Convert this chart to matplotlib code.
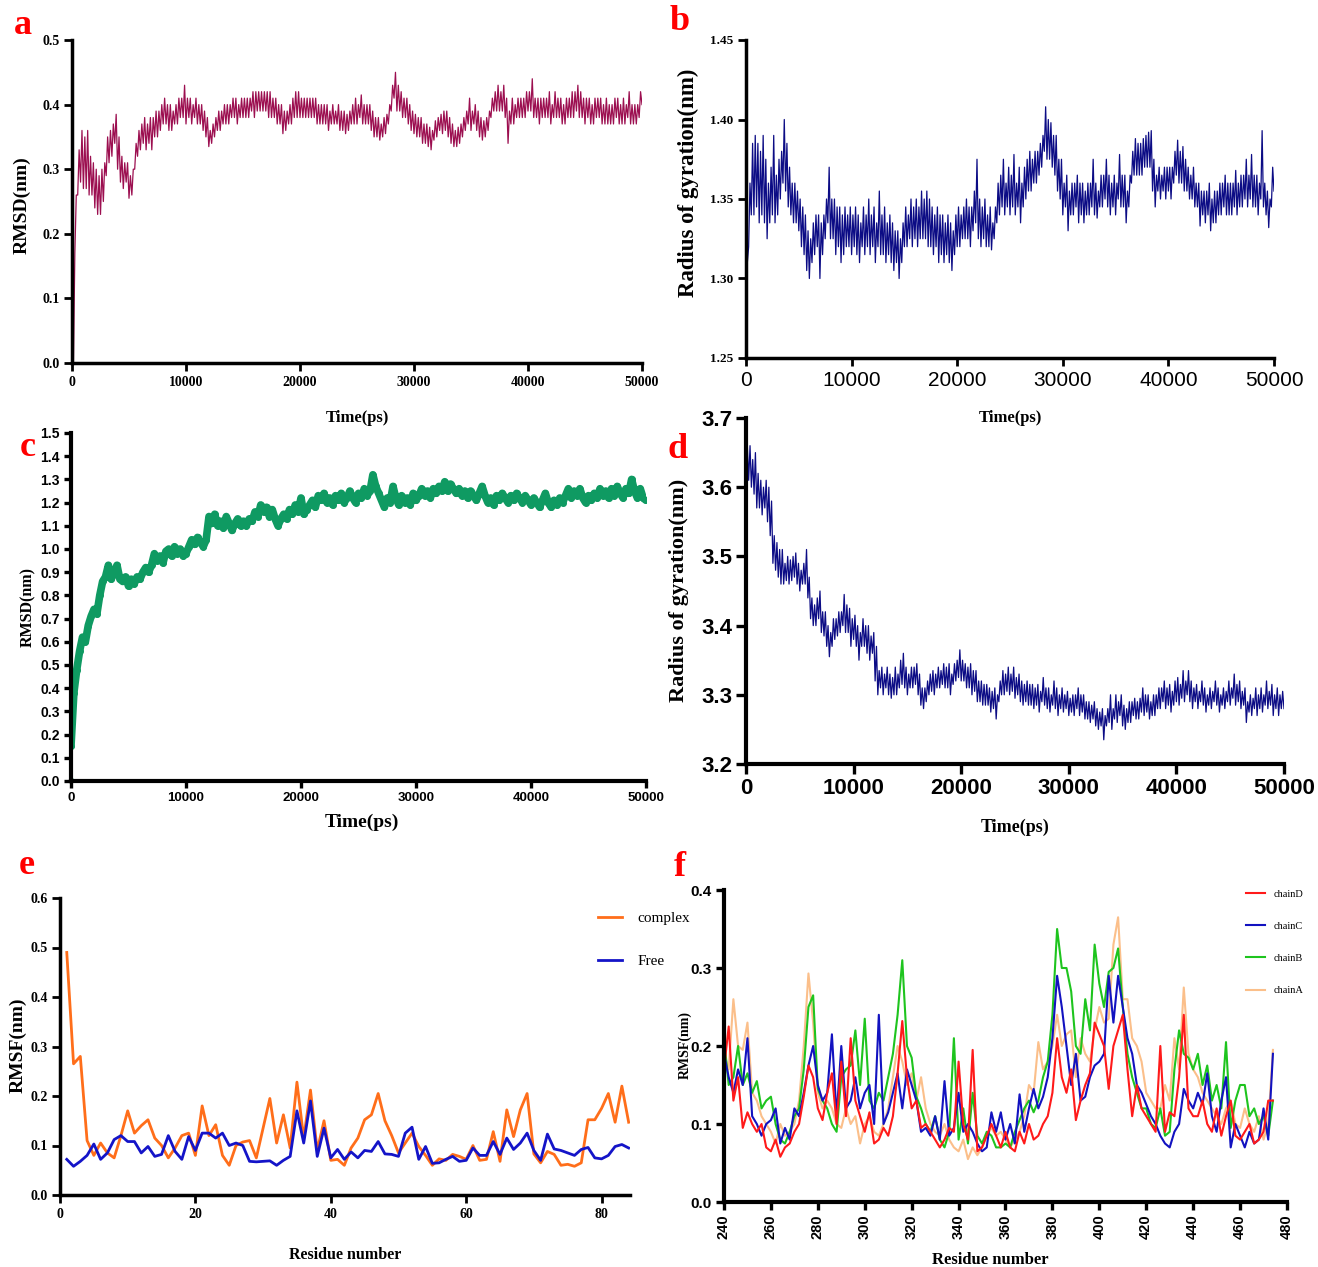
import numpy as np
import matplotlib
matplotlib.use('Agg')
import matplotlib.pyplot as plt

# ---------------- data ----------------
TIME_STEP_PS = 250  # sampling of the trajectories below (ps)
# For the noisy trajectories (a, b, d) the lower / upper edge of the
# fluctuation band is read at every 250 ps step.

A_LOW = [
 0.00,0.17,0.26,0.28,0.27,0.27,0.26,0.26,0.24,0.23,
 0.23,0.25,0.29,0.31,0.32,0.34,0.30,0.28,0.27,0.28,
 0.255,0.26,0.30,0.32,0.33,0.34,0.33,0.34,0.33,0.35,
 0.35,0.36,0.37,0.37,0.36,0.36,0.37,0.37,0.38,0.38,
 0.37,0.38,0.37,0.38,0.37,0.37,0.36,0.35,0.335,0.34,
 0.35,0.36,0.36,0.37,0.37,0.37,0.38,0.38,0.37,0.38,
 0.38,0.38,0.38,0.39,0.38,0.39,0.39,0.39,0.39,0.38,
 0.38,0.38,0.37,0.37,0.355,0.36,0.37,0.37,0.38,0.38,
 0.38,0.38,0.38,0.38,0.38,0.38,0.37,0.37,0.37,0.37,
 0.36,0.37,0.37,0.37,0.36,0.36,0.355,0.36,0.37,0.37,
 0.37,0.38,0.37,0.37,0.37,0.36,0.35,0.35,0.345,0.35,
 0.355,0.37,0.39,0.41,0.39,0.39,0.38,0.38,0.37,0.36,
 0.355,0.35,0.35,0.34,0.34,0.335,0.33,0.345,0.35,0.36,
 0.355,0.36,0.35,0.34,0.335,0.335,0.34,0.35,0.36,0.37,
 0.36,0.37,0.36,0.35,0.345,0.35,0.36,0.38,0.39,0.39,
 0.39,0.39,0.38,0.34,0.37,0.37,0.38,0.38,0.38,0.38,
 0.39,0.39,0.38,0.38,0.37,0.38,0.38,0.38,0.37,0.38,
 0.38,0.38,0.37,0.37,0.38,0.38,0.38,0.39,0.38,0.38,
 0.37,0.38,0.37,0.37,0.38,0.38,0.37,0.37,0.37,0.37,
 0.37,0.38,0.37,0.37,0.37,0.38,0.37,0.37,0.37,0.38,
 0.40]
A_HIGH = [
 0.00,0.26,0.33,0.36,0.35,0.36,0.32,0.31,0.30,0.29,
 0.30,0.31,0.35,0.36,0.37,0.385,0.35,0.32,0.31,0.31,
 0.29,0.30,0.34,0.36,0.37,0.38,0.37,0.38,0.38,0.39,
 0.39,0.40,0.41,0.40,0.40,0.39,0.40,0.41,0.41,0.43,
 0.41,0.41,0.40,0.41,0.40,0.40,0.39,0.38,0.36,0.37,
 0.38,0.39,0.39,0.40,0.40,0.40,0.41,0.41,0.40,0.41,
 0.41,0.41,0.41,0.42,0.42,0.42,0.42,0.42,0.42,0.42,
 0.41,0.41,0.40,0.40,0.39,0.39,0.40,0.41,0.42,0.42,
 0.41,0.41,0.41,0.41,0.41,0.41,0.40,0.40,0.40,0.40,
 0.39,0.40,0.39,0.40,0.39,0.39,0.385,0.39,0.40,0.41,
 0.40,0.415,0.40,0.40,0.40,0.39,0.38,0.38,0.37,0.38,
 0.385,0.40,0.43,0.45,0.43,0.42,0.41,0.41,0.40,0.39,
 0.385,0.38,0.38,0.37,0.37,0.365,0.36,0.375,0.38,0.385,
 0.39,0.39,0.38,0.37,0.36,0.365,0.37,0.38,0.39,0.41,
 0.39,0.40,0.39,0.38,0.375,0.38,0.39,0.41,0.42,0.43,
 0.42,0.43,0.41,0.39,0.41,0.40,0.41,0.41,0.41,0.42,
 0.42,0.44,0.41,0.41,0.41,0.41,0.41,0.42,0.40,0.42,
 0.41,0.41,0.40,0.41,0.41,0.42,0.42,0.43,0.42,0.41,
 0.41,0.41,0.40,0.41,0.41,0.41,0.40,0.41,0.40,0.40,
 0.41,0.41,0.40,0.41,0.40,0.42,0.40,0.40,0.40,0.42,
 0.44]

B_LOW = [
 1.300,1.320,1.340,1.340,1.345,1.335,1.340,1.335,1.325,1.335,
 1.340,1.335,1.340,1.350,1.360,1.355,1.345,1.340,1.335,1.335,
 1.330,1.320,1.315,1.305,1.300,1.310,1.315,1.320,1.300,1.315,
 1.325,1.335,1.325,1.325,1.315,1.320,1.310,1.315,1.320,1.320,
 1.315,1.320,1.315,1.310,1.320,1.315,1.320,1.315,1.320,1.310,
 1.320,1.315,1.315,1.310,1.315,1.310,1.305,1.310,1.300,1.310,
 1.320,1.320,1.325,1.320,1.325,1.320,1.325,1.325,1.325,1.320,
 1.320,1.315,1.320,1.310,1.315,1.310,1.315,1.310,1.305,1.315,
 1.320,1.320,1.325,1.325,1.325,1.320,1.330,1.335,1.325,1.320,
 1.325,1.320,1.320,1.318,1.325,1.335,1.340,1.345,1.340,1.345,
 1.340,1.345,1.340,1.345,1.335,1.345,1.350,1.355,1.355,1.360,
 1.360,1.365,1.370,1.380,1.375,1.375,1.370,1.365,1.355,1.350,
 1.340,1.345,1.330,1.340,1.340,1.345,1.335,1.340,1.335,1.340,
 1.340,1.345,1.340,1.338,1.345,1.345,1.350,1.345,1.340,1.345,
 1.340,1.350,1.345,1.345,1.335,1.345,1.360,1.365,1.365,1.365,
 1.365,1.370,1.370,1.370,1.355,1.345,1.355,1.350,1.355,1.350,
 1.355,1.350,1.360,1.365,1.360,1.360,1.355,1.355,1.350,1.350,
 1.345,1.345,1.333,1.340,1.335,1.340,1.330,1.335,1.335,1.340,
 1.340,1.345,1.340,1.340,1.340,1.345,1.340,1.345,1.345,1.350,
 1.345,1.350,1.345,1.345,1.340,1.350,1.345,1.340,1.332,1.345,
 1.355]
B_HIGH = [
 1.310,1.360,1.385,1.390,1.385,1.380,1.390,1.375,1.360,1.370,
 1.390,1.365,1.375,1.380,1.400,1.385,1.370,1.360,1.360,1.355,
 1.350,1.345,1.340,1.330,1.325,1.335,1.340,1.340,1.335,1.340,
 1.350,1.370,1.350,1.350,1.345,1.345,1.340,1.345,1.340,1.345,
 1.340,1.345,1.340,1.335,1.345,1.340,1.350,1.340,1.345,1.335,
 1.355,1.340,1.345,1.335,1.340,1.335,1.330,1.330,1.325,1.335,
 1.345,1.340,1.350,1.345,1.350,1.345,1.355,1.350,1.355,1.350,
 1.345,1.340,1.345,1.340,1.340,1.335,1.340,1.335,1.330,1.340,
 1.345,1.340,1.345,1.350,1.345,1.345,1.355,1.375,1.350,1.345,
 1.350,1.340,1.345,1.335,1.345,1.360,1.365,1.375,1.360,1.370,
 1.365,1.378,1.360,1.370,1.360,1.370,1.375,1.380,1.375,1.380,
 1.380,1.385,1.390,1.408,1.400,1.398,1.390,1.390,1.375,1.375,
 1.360,1.365,1.355,1.360,1.360,1.365,1.360,1.360,1.355,1.360,
 1.360,1.375,1.360,1.355,1.365,1.365,1.375,1.365,1.360,1.365,
 1.360,1.378,1.365,1.365,1.355,1.365,1.380,1.388,1.385,1.385,
 1.388,1.390,1.392,1.393,1.375,1.365,1.370,1.365,1.370,1.370,
 1.370,1.370,1.380,1.387,1.380,1.383,1.375,1.370,1.365,1.370,
 1.360,1.360,1.355,1.355,1.355,1.360,1.350,1.355,1.355,1.360,
 1.360,1.365,1.360,1.360,1.360,1.368,1.360,1.365,1.365,1.375,
 1.365,1.378,1.365,1.365,1.360,1.393,1.360,1.355,1.350,1.370,
 1.378]

RMSD_C = [
 0.15,0.38,0.48,0.56,0.62,0.60,0.67,0.71,0.74,0.72,
 0.80,0.86,0.88,0.93,0.87,0.90,0.93,0.87,0.86,0.88,
 0.84,0.87,0.85,0.88,0.87,0.90,0.92,0.90,0.93,0.98,
 0.95,0.97,0.94,0.99,1.00,0.97,1.01,0.98,1.00,0.97,
 0.98,1.01,1.04,1.02,1.05,1.03,1.01,1.04,1.14,1.11,
 1.15,1.10,1.12,1.09,1.14,1.11,1.08,1.11,1.13,1.10,
 1.12,1.10,1.13,1.12,1.16,1.14,1.19,1.16,1.18,1.14,
 1.17,1.13,1.10,1.13,1.15,1.13,1.17,1.15,1.19,1.16,
 1.22,1.15,1.17,1.19,1.21,1.18,1.23,1.21,1.24,1.20,
 1.22,1.19,1.23,1.21,1.24,1.20,1.22,1.25,1.22,1.20,
 1.24,1.22,1.26,1.23,1.25,1.32,1.27,1.24,1.21,1.18,
 1.22,1.20,1.27,1.22,1.19,1.23,1.20,1.22,1.19,1.24,
 1.21,1.23,1.26,1.23,1.25,1.22,1.26,1.24,1.27,1.25,
 1.29,1.25,1.28,1.26,1.24,1.26,1.23,1.25,1.22,1.25,
 1.23,1.21,1.24,1.27,1.23,1.20,1.22,1.19,1.23,1.21,
 1.24,1.22,1.20,1.23,1.21,1.24,1.22,1.20,1.23,1.21,
 1.19,1.22,1.20,1.18,1.21,1.24,1.20,1.18,1.21,1.19,
 1.22,1.20,1.23,1.26,1.22,1.25,1.23,1.26,1.22,1.20,
 1.23,1.21,1.24,1.22,1.26,1.23,1.25,1.22,1.26,1.23,
 1.27,1.24,1.22,1.26,1.24,1.30,1.25,1.22,1.26,1.22,
 1.21]

D_LOW = [
 3.58,3.61,3.60,3.59,3.57,3.57,3.56,3.57,3.55,3.53,
 3.49,3.48,3.47,3.46,3.46,3.465,3.46,3.465,3.47,3.46,
 3.45,3.46,3.46,3.44,3.41,3.40,3.40,3.41,3.39,3.385,
 3.37,3.355,3.37,3.38,3.385,3.39,3.40,3.39,3.39,3.37,
 3.38,3.37,3.35,3.37,3.37,3.36,3.35,3.36,3.32,3.30,
 3.31,3.30,3.31,3.30,3.295,3.30,3.30,3.31,3.315,3.31,
 3.30,3.31,3.31,3.315,3.30,3.285,3.28,3.29,3.30,3.305,
 3.30,3.31,3.31,3.315,3.31,3.31,3.30,3.315,3.32,3.325,
 3.32,3.32,3.31,3.31,3.30,3.305,3.29,3.29,3.285,3.285,
 3.285,3.275,3.28,3.265,3.29,3.30,3.30,3.305,3.30,3.305,
 3.295,3.30,3.29,3.285,3.29,3.285,3.285,3.28,3.285,3.275,
 3.29,3.285,3.28,3.275,3.285,3.28,3.27,3.28,3.275,3.28,
 3.27,3.275,3.27,3.28,3.27,3.275,3.265,3.265,3.26,3.265,
 3.255,3.25,3.255,3.235,3.255,3.26,3.25,3.265,3.26,3.27,
 3.255,3.25,3.26,3.26,3.27,3.265,3.265,3.275,3.27,3.275,
 3.265,3.27,3.27,3.28,3.28,3.29,3.28,3.285,3.275,3.285,
 3.29,3.285,3.295,3.29,3.30,3.29,3.28,3.29,3.28,3.29,
 3.285,3.275,3.285,3.28,3.29,3.285,3.275,3.285,3.28,3.29,
 3.285,3.295,3.285,3.29,3.28,3.285,3.26,3.275,3.27,3.28,
 3.27,3.28,3.275,3.285,3.28,3.285,3.27,3.28,3.27,3.28,
 3.28]
D_HIGH = [
 3.66,3.66,3.64,3.65,3.62,3.61,3.60,3.61,3.60,3.58,
 3.53,3.52,3.51,3.51,3.49,3.50,3.495,3.50,3.505,3.49,
 3.48,3.49,3.51,3.47,3.44,3.43,3.44,3.45,3.42,3.42,
 3.40,3.39,3.41,3.41,3.42,3.42,3.445,3.43,3.425,3.41,
 3.415,3.40,3.39,3.41,3.40,3.40,3.385,3.39,3.37,3.335,
 3.34,3.33,3.34,3.33,3.325,3.34,3.33,3.35,3.36,3.34,
 3.33,3.34,3.34,3.345,3.33,3.31,3.31,3.32,3.33,3.335,
 3.33,3.34,3.335,3.345,3.34,3.345,3.33,3.345,3.35,3.365,
 3.35,3.345,3.34,3.345,3.335,3.335,3.32,3.32,3.315,3.315,
 3.31,3.305,3.31,3.30,3.32,3.335,3.33,3.34,3.33,3.34,
 3.325,3.33,3.32,3.315,3.32,3.315,3.315,3.31,3.315,3.305,
 3.325,3.31,3.31,3.30,3.32,3.31,3.30,3.31,3.30,3.305,
 3.295,3.30,3.30,3.31,3.30,3.30,3.29,3.29,3.285,3.29,
 3.28,3.275,3.28,3.27,3.28,3.30,3.28,3.30,3.29,3.30,
 3.285,3.28,3.29,3.29,3.295,3.29,3.295,3.31,3.30,3.30,
 3.29,3.30,3.30,3.31,3.31,3.32,3.31,3.315,3.305,3.32,
 3.325,3.315,3.335,3.32,3.335,3.32,3.31,3.315,3.305,3.32,
 3.31,3.30,3.31,3.305,3.32,3.31,3.30,3.31,3.305,3.32,
 3.31,3.33,3.315,3.32,3.305,3.31,3.29,3.30,3.295,3.31,
 3.30,3.31,3.30,3.32,3.305,3.315,3.30,3.31,3.30,3.305,
 3.30]

RES_E = list(range(1, 85))
COMPLEX_E = [
 0.490,0.265,0.280,0.110,0.080,0.105,0.085,0.075,0.120,0.170,
 0.125,0.140,0.152,0.115,0.100,0.075,0.095,0.120,0.125,0.080,
 0.180,0.120,0.142,0.080,0.060,0.100,0.107,0.110,0.075,0.135,
 0.195,0.105,0.162,0.095,0.228,0.115,0.212,0.090,0.150,0.070,
 0.072,0.060,0.095,0.115,0.152,0.162,0.205,0.150,0.120,0.085,
 0.105,0.125,0.098,0.080,0.060,0.073,0.070,0.082,0.078,0.072,
 0.100,0.070,0.072,0.128,0.068,0.172,0.118,0.172,0.205,0.083,
 0.065,0.088,0.082,0.060,0.062,0.058,0.065,0.152,0.152,0.175,
 0.205,0.147,0.220,0.147]
FREE_E = [
 0.072,0.058,0.068,0.080,0.103,0.072,0.085,0.112,0.120,0.108,
 0.108,0.085,0.098,0.078,0.082,0.120,0.088,0.072,0.118,0.090,
 0.125,0.125,0.115,0.125,0.100,0.105,0.100,0.068,0.067,0.068,
 0.069,0.060,0.070,0.078,0.170,0.105,0.190,0.078,0.135,0.075,
 0.092,0.072,0.087,0.075,0.090,0.088,0.108,0.083,0.082,0.078,
 0.125,0.137,0.072,0.098,0.064,0.065,0.072,0.078,0.068,0.070,
 0.095,0.080,0.080,0.108,0.082,0.115,0.092,0.105,0.125,0.090,
 0.070,0.123,0.093,0.090,0.085,0.080,0.092,0.096,0.075,0.073,
 0.080,0.098,0.102,0.095]

RES_F = list(range(240, 476, 2))
CHAIN_D = [
 0.170,0.225,0.130,0.160,0.095,0.115,0.100,0.090,0.100,0.070,
 0.065,0.080,0.058,0.070,0.075,0.090,0.100,0.135,0.175,0.160,
 0.120,0.105,0.140,0.165,0.100,0.180,0.110,0.210,0.130,0.110,
 0.090,0.115,0.075,0.080,0.095,0.085,0.110,0.165,0.232,0.160,
 0.120,0.130,0.095,0.100,0.090,0.080,0.070,0.080,0.095,0.090,
 0.180,0.100,0.080,0.195,0.065,0.070,0.085,0.100,0.085,0.070,
 0.090,0.070,0.065,0.090,0.075,0.100,0.080,0.085,0.100,0.110,
 0.140,0.210,0.160,0.140,0.170,0.105,0.130,0.150,0.165,0.230,
 0.215,0.200,0.145,0.200,0.220,0.240,0.170,0.110,0.150,0.120,
 0.110,0.100,0.090,0.200,0.090,0.115,0.110,0.160,0.240,0.120,
 0.110,0.110,0.130,0.100,0.090,0.120,0.085,0.110,0.130,0.085,
 0.080,0.090,0.100,0.075,0.080,0.090,0.130,0.130]
CHAIN_C = [
 0.190,0.160,0.140,0.170,0.150,0.210,0.110,0.100,0.085,0.100,
 0.105,0.120,0.075,0.095,0.080,0.120,0.110,0.140,0.175,0.200,
 0.150,0.130,0.140,0.215,0.110,0.200,0.120,0.130,0.160,0.120,
 0.140,0.150,0.100,0.240,0.100,0.115,0.140,0.165,0.120,0.170,
 0.150,0.130,0.090,0.095,0.085,0.110,0.080,0.155,0.085,0.095,
 0.140,0.090,0.100,0.090,0.075,0.065,0.070,0.115,0.090,0.115,
 0.080,0.100,0.075,0.138,0.090,0.120,0.145,0.120,0.135,0.160,
 0.210,0.290,0.250,0.200,0.150,0.190,0.130,0.135,0.160,0.175,
 0.180,0.190,0.290,0.230,0.290,0.250,0.210,0.190,0.150,0.140,
 0.125,0.110,0.100,0.085,0.075,0.070,0.090,0.100,0.145,0.130,
 0.120,0.140,0.125,0.165,0.110,0.090,0.130,0.160,0.070,0.100,
 0.085,0.070,0.090,0.075,0.080,0.120,0.080,0.190]
CHAIN_B = [
 0.210,0.150,0.160,0.200,0.150,0.165,0.140,0.155,0.120,0.130,
 0.135,0.100,0.080,0.075,0.090,0.110,0.120,0.170,0.250,0.265,
 0.145,0.130,0.120,0.100,0.090,0.160,0.170,0.175,0.220,0.150,
 0.235,0.130,0.120,0.140,0.130,0.160,0.190,0.240,0.310,0.200,
 0.185,0.135,0.120,0.100,0.090,0.110,0.080,0.070,0.090,0.210,
 0.080,0.120,0.075,0.140,0.085,0.075,0.090,0.085,0.070,0.070,
 0.075,0.070,0.090,0.105,0.120,0.130,0.115,0.130,0.160,0.180,
 0.240,0.350,0.300,0.300,0.270,0.200,0.190,0.260,0.220,0.330,
 0.280,0.250,0.295,0.300,0.325,0.250,0.190,0.160,0.140,0.120,
 0.120,0.100,0.095,0.120,0.085,0.090,0.170,0.220,0.190,0.185,
 0.170,0.190,0.150,0.175,0.130,0.150,0.120,0.205,0.095,0.130,
 0.150,0.150,0.110,0.120,0.100,0.110,0.085,0.130]
CHAIN_A = [
 0.190,0.170,0.260,0.200,0.195,0.230,0.140,0.130,0.110,0.100,
 0.090,0.075,0.100,0.085,0.090,0.100,0.130,0.200,0.293,0.230,
 0.140,0.120,0.130,0.120,0.100,0.095,0.120,0.100,0.110,0.075,
 0.100,0.110,0.090,0.085,0.100,0.120,0.160,0.200,0.180,0.150,
 0.165,0.130,0.160,0.120,0.100,0.090,0.085,0.100,0.080,0.070,
 0.065,0.080,0.055,0.070,0.060,0.070,0.085,0.095,0.085,0.090,
 0.080,0.070,0.080,0.090,0.110,0.150,0.140,0.205,0.170,0.180,
 0.200,0.240,0.200,0.215,0.220,0.160,0.210,0.190,0.180,0.220,
 0.250,0.230,0.235,0.330,0.365,0.260,0.260,0.210,0.200,0.180,
 0.140,0.130,0.120,0.120,0.150,0.130,0.210,0.170,0.275,0.190,
 0.170,0.160,0.140,0.130,0.120,0.110,0.100,0.120,0.130,0.100,
 0.095,0.120,0.100,0.090,0.110,0.080,0.100,0.195]

# ---------------- figure ----------------
W, H = 1318, 1267
fig = plt.figure(figsize=(W / 100, H / 100), dpi=100)
SERIF = 'Liberation Serif'
SANS = 'Liberation Sans'


def ax_px(l, t, r, b):
    return fig.add_axes([l / W, 1 - b / H, (r - l) / W, (b - t) / H])


def style(ax, lw=2.5, tl=6):
    for s in ['top', 'right']:
        ax.spines[s].set_visible(False)
    for s in ['left', 'bottom']:
        ax.spines[s].set_linewidth(lw)
    ax.tick_params(width=lw * 0.8, length=tl, direction='out', pad=3)


def ticks(ax, xt, xl, yt, yl, xfont, yfont):
    ax.set_xticks(xt)
    ax.set_xticklabels(xl, **xfont)
    ax.set_yticks(yt)
    ax.set_yticklabels(yl, **yfont)


def ftext(x, y, s, **kw):
    fig.text(x / W, 1 - y / H, s, ha='center', va='center', **kw)


def letter(x, y, s):
    ftext(x, y, s, color='#ff0000', fontsize=26, fontweight='bold', family=SERIF)


def band_series(low, high):
    """Alternate the band's lower edge (at t) and upper edge (at t + step/2)."""
    low = np.asarray(low, float); high = np.asarray(high, float)
    t = np.arange(len(low)) * TIME_STEP_PS
    tt = np.empty(2 * len(low)); yy = np.empty(2 * len(low))
    tt[0::2] = t; tt[1::2] = t + TIME_STEP_PS / 2
    yy[0::2] = low; yy[1::2] = high
    keep = tt <= 50000
    return tt[keep], yy[keep]


T = np.arange(len(RMSD_C)) * TIME_STEP_PS
tx = [0, 10000, 20000, 30000, 40000, 50000]
txl = [str(v) for v in tx]

# ---- a ----
ax = ax_px(72, 40, 642, 363)
ax.plot(*band_series(A_LOW, A_HIGH), color='#9c0f50', lw=0.9)
ax.set_xlim(0, 50000); ax.set_ylim(0, 0.5)
style(ax, 2.5)
yt = [0, 0.1, 0.2, 0.3, 0.4, 0.5]
f = dict(family=SERIF, fontweight='bold', fontsize=10)
ticks(ax, tx, txl, yt, ['%.1f' % v for v in yt], f, f)
letter(23, 25, 'a')
ftext(22, 205, 'RMSD(nm)', rotation=90, fontsize=14, fontweight='bold', family=SERIF)
ftext(357, 418, 'Time(ps)', fontsize=12, fontweight='bold', family=SERIF)

# ---- b ----
ax = ax_px(746, 40, 1274, 358)
ax.plot(*band_series(B_LOW, B_HIGH), color='#0c0c85', lw=0.9)
ax.set_xlim(0, 50000); ax.set_ylim(1.25, 1.45)
style(ax, 2.5)
yt = [1.25, 1.30, 1.35, 1.40, 1.45]
ticks(ax, tx, txl, yt, ['%.2f' % v for v in yt],
      dict(family=SANS, fontsize=15),
      dict(family=SERIF, fontweight='bold', fontsize=9.5))
letter(680, 22, 'b')
ftext(688, 183, 'Radius of gyration(nm)', rotation=90, fontsize=16.5, fontweight='bold', family=SERIF)
ftext(1010, 418, 'Time(ps)', fontsize=12, fontweight='bold', family=SERIF)

# ---- c ----
ax = ax_px(71, 433, 646, 781)
ax.plot(T, RMSD_C, color='#0f9a62', lw=5.5, marker='o', ms=4, solid_capstyle='round',
        solid_joinstyle='round')
ax.plot([0], [0.0], 'o', color='#0f9a62', ms=4)
ax.set_xlim(0, 50000); ax.set_ylim(0, 1.5)
style(ax, 3.0, 5)
yt = [round(0.1 * i, 1) for i in range(16)]
ticks(ax, tx, txl, yt, ['%.1f' % v for v in yt],
      dict(family=SANS, fontweight='bold', fontsize=9.5),
      dict(family=SANS, fontweight='bold', fontsize=10))
letter(28, 447, 'c')
ftext(28, 607, 'RMSD(nm)', rotation=90, fontsize=11.5, fontweight='bold', family=SERIF)
ftext(362, 822, 'Time(ps)', fontsize=14, fontweight='bold', family=SERIF)

# ---- d ----
ax = ax_px(746, 418, 1284, 764)
ax.plot(*band_series(D_LOW, D_HIGH), color='#0c0c85', lw=0.9)
ax.set_xlim(0, 50000); ax.set_ylim(3.2, 3.7)
style(ax, 3.0, 7)
yt = [3.2, 3.3, 3.4, 3.5, 3.6, 3.7]
f = dict(family=SANS, fontweight='bold', fontsize=16)
ticks(ax, tx, txl, yt, ['%.1f' % v for v in yt], f, f)
letter(678, 449, 'd')
ftext(679, 590, 'Radius of gyration(nm)', rotation=90, fontsize=16, fontweight='bold', family=SERIF)
ftext(1015, 827, 'Time(ps)', fontsize=13, fontweight='bold', family=SERIF)

# ---- e ----
ax = ax_px(60, 898, 630, 1195)
ax.plot(RES_E, COMPLEX_E, color='#ff6e1a', lw=2.0, label='complex')
ax.plot(RES_E, FREE_E, color='#1414c8', lw=2.0, label='Free')
ax.set_xlim(0, 84.2); ax.set_ylim(0, 0.6)
style(ax, 2.5)
yt = [0, 0.1, 0.2, 0.3, 0.4, 0.5, 0.6]
f = dict(family=SERIF, fontweight='bold', fontsize=10)
ticks(ax, [0, 20, 40, 60, 80], ['0', '20', '40', '60', '80'], yt, ['%.1f' % v for v in yt], f, f)
ax.legend(loc='upper left', bbox_to_anchor=(584 / W, 1 - 898 / H), bbox_transform=fig.transFigure,
          frameon=False, prop=dict(family=SERIF, size=11), handlelength=1.6, labelspacing=1.9,
          handletextpad=1.0)
letter(27, 866, 'e')
ftext(18, 1045, 'RMSF(nm)', rotation=90, fontsize=14, fontweight='bold', family=SERIF)
ftext(345, 1255, 'Residue number', fontsize=11.5, fontweight='bold', family=SERIF)

# ---- f ----
ax = ax_px(724, 890, 1287, 1202)
ax.plot(RES_F, CHAIN_A, color='#fbbf8a', lw=1.5, label='chainA')
ax.plot(RES_F, CHAIN_B, color='#1ec41e', lw=1.5, label='chainB')
ax.plot(RES_F, CHAIN_C, color='#1212c0', lw=1.5, label='chainC')
ax.plot(RES_F, CHAIN_D, color='#ff1a1a', lw=1.5, label='chainD')
ax.set_xlim(240, 480); ax.set_ylim(0, 0.4)
style(ax, 3.0)
xt = list(range(240, 481, 20))
yt = [0, 0.1, 0.2, 0.3, 0.4]
ticks(ax, xt, [str(v) for v in xt], yt, ['%.1f' % v for v in yt],
      dict(family=SANS, fontweight='bold', fontsize=10.5, rotation=90),
      dict(family=SANS, fontweight='bold', fontsize=11))
hs, ls = ax.get_legend_handles_labels()
ax.legend(hs[::-1], ls[::-1], loc='upper left', bbox_to_anchor=(1237 / W, 1 - 880 / H),
          bbox_transform=fig.transFigure, frameon=False, prop=dict(family=SERIF, size=7.5),
          handlelength=1.8, labelspacing=2.2, handletextpad=0.8)
letter(680, 868, 'f')
ftext(685, 1045, 'RMSF(nm)', rotation=90, fontsize=10, fontweight='bold', family=SERIF)
ftext(990, 1260, 'Residue number', fontsize=12, fontweight='bold', family=SERIF)

fig.savefig('out.png', dpi=100)
